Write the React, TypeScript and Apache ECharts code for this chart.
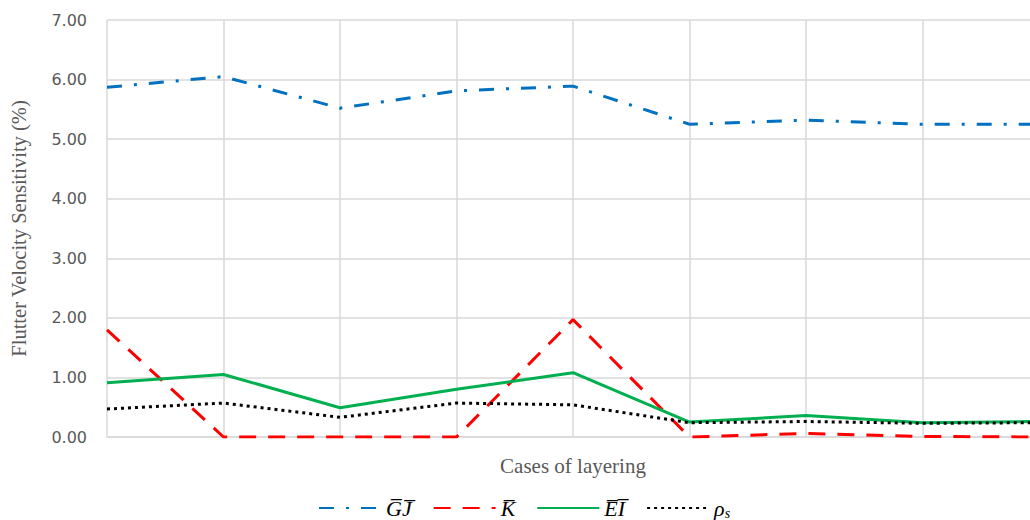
import React, { useEffect, useRef } from "react";
import * as echarts from "echarts";

const categories = ["1", "2", "3", "4", "5", "6", "7", "8", "9"];
const gjValues = [5.87, 6.05, 5.52, 5.81, 5.89, 5.25, 5.32, 5.25, 5.25];
const kValues = [1.8, 0.0, 0.0, 0.0, 1.97, 0.0, 0.06, 0.01, 0.0];
const eiValues = [0.91, 1.05, 0.49, 0.8, 1.08, 0.25, 0.36, 0.24, 0.26];
const rhoValues = [0.47, 0.57, 0.33, 0.57, 0.54, 0.24, 0.26, 0.23, 0.24];
const yTicks = { min: 0, max: 7, interval: 1 };

const seriesNames = ["GJ", "K", "EI", "rho"];
const legendLabels: Record<string, string> = {
  GJ: "{m|G\u0305J\u0305}",
  K: "{m|K\u0305}",
  EI: "{m|E\u0305I\u0305}",
  rho: "{m|\u03c1}{s|s}",
};

export default function App() {
  const ref = useRef<HTMLDivElement>(null);
  useEffect(() => {
    if (!ref.current) return;
    const chart = echarts.init(ref.current, null, { renderer: "svg" });
    const mk = (name: string, data: number[], color: string, type: any) => ({
      name,
      type: "line",
      data,
      symbol: "none",
      smooth: false,
      lineStyle: { color, width: 3, type, cap: "butt" },
      itemStyle: { color },
    });
    chart.setOption({
      animation: false,
      backgroundColor: "#ffffff",
      grid: { left: 105, right: 1, top: 20, bottom: 83 },
      xAxis: {
        type: "category",
        data: categories,
        boundaryGap: false,
        name: "Cases of layering",
        nameLocation: "middle",
        nameGap: 18,
        nameTextStyle: {
          fontFamily: "Liberation Serif",
          fontSize: 21,
          color: "#595959",
        },
        axisLine: { show: true, lineStyle: { color: "#d9d9d9", width: 1.5 } },
        axisTick: { show: false },
        axisLabel: { show: false },
        splitLine: { show: true, lineStyle: { color: "#d9d9d9", width: 1.5 } },
      },
      yAxis: {
        type: "value",
        min: yTicks.min,
        max: yTicks.max,
        interval: yTicks.interval,
        name: "Flutter Velocity Sensitivity (%)",
        nameLocation: "middle",
        nameGap: 78,
        nameTextStyle: {
          fontFamily: "Liberation Serif",
          fontSize: 20.5,
          color: "#595959",
        },
        axisLine: { show: false },
        axisTick: { show: false },
        axisLabel: {
          formatter: (v: number) => v.toFixed(2),
          fontFamily: "DejaVu Sans",
          fontSize: 16,
          color: "#595959",
          margin: 20,
        },
        splitLine: { show: true, lineStyle: { color: "#d9d9d9", width: 1.5 } },
      },
      legend: {
        data: seriesNames,
        bottom: -5,
        left: 313,
        itemWidth: 62,
        itemHeight: 14,
        itemGap: 21,
        itemStyle: { opacity: 0 },
        formatter: (n: string) => legendLabels[n],
        textStyle: {
          rich: {
            m: {
              fontFamily: "Liberation Serif",
              fontStyle: "italic",
              fontSize: 22,
              color: "#000",
            },
            s: {
              fontFamily: "Liberation Serif",
              fontStyle: "italic",
              fontSize: 14,
              color: "#000",
              verticalAlign: "bottom",
              padding: [10, 0, 0, 0],
            },
          },
        },
      },
      series: [
        mk("GJ", gjValues, "#0070c0", [15, 12, 3, 12]),
        mk("K", kValues, "#ff0000", [17, 12]),
        mk("EI", eiValues, "#00b050", "solid"),
        mk("rho", rhoValues, "#000000", [3, 4]),
      ],
    });
    return () => chart.dispose();
  }, []);
  return (
    <div
      style={{ position: "fixed", left: 0, top: 0, width: 1030, height: 520, overflow: "hidden", background: "#fff" }}
    >
      <div ref={ref} style={{ width: 1040, height: 520 }} />
    </div>
  );
}
